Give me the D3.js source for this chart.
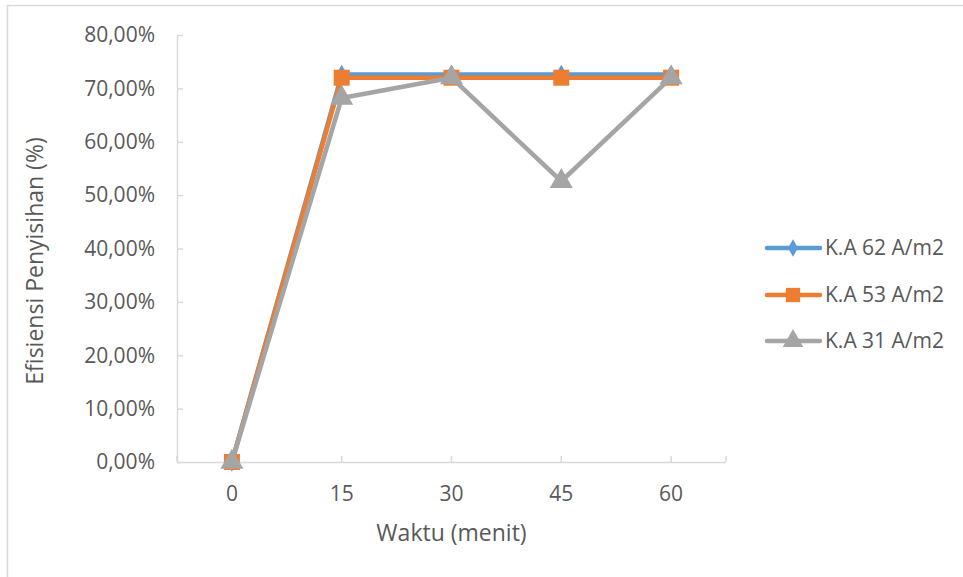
<!DOCTYPE html>
<html>
<head>
<meta charset="utf-8">
<script src="https://cdn.jsdelivr.net/npm/d3@7"></script>
<style>
  html, body { margin: 0; padding: 0; background: #fff; }
  svg { display: block; font-family: "Open Sans", "Liberation Sans", sans-serif; }
</style>
</head>
<body>
<svg id="chart" width="963" height="577"></svg>
<script>
// Waktu (menit) categories
const categories = ["0", "15", "30", "45", "60"];

// Efisiensi penyisihan per rapat arus (fractions)
const seriesNames = ["K.A 62 A/m2", "K.A 53 A/m2", "K.A 31 A/m2"];
const ka62 = [0, 0.726, 0.726, 0.726, 0.726];
const ka53 = [0, 0.720, 0.720, 0.720, 0.720];
const ka31 = [0, 0.682, 0.720, 0.526, 0.720];

const yTicks = [0, 0.1, 0.2, 0.3, 0.4, 0.5, 0.6, 0.7, 0.8];

const colors = ["#5b9bd5", "#ed7d31", "#a5a5a5"];
const markers = [d3.symbolDiamond, d3.symbolSquare, d3.symbolTriangle];
const markerSizes = [110, 256, 230];

const svg = d3.select("#chart");

// outer chart frame
svg.append("rect")
  .attr("x", 7.5).attr("y", 5.5)
  .attr("width", 1000).attr("height", 600)
  .attr("fill", "none").attr("stroke", "#d9d9d9").attr("stroke-width", 1.5);

const plot = { left: 177, right: 726, top: 35, bottom: 462 };

const x = d3.scalePoint().domain(categories)
  .range([plot.left, plot.right]).padding(0.5);
const y = d3.scaleLinear().domain([0, 0.8]).range([plot.bottom, plot.top]);

const fmt = v => d3.format(".2f")(v * 100).replace(".", ",") + "%";
const axisColor = "#d9d9d9";
const textColor = "#595959";

// y axis
const yAxis = svg.append("g").attr("transform", `translate(${plot.left},0)`)
  .call(d3.axisRight(y).tickValues(yTicks).tickSize(6).tickFormat(""));
yAxis.select(".domain").attr("stroke", axisColor).attr("stroke-width", 1.5)
  .attr("d", `M0.5,${plot.top}V${plot.bottom}`);
yAxis.selectAll(".tick line").attr("stroke", axisColor).attr("stroke-width", 1.5);

svg.append("g").selectAll("text").data(yTicks).join("text")
  .attr("x", 155).attr("y", d => y(d))
  .attr("dy", "0.35em").attr("text-anchor", "end")
  .attr("font-size", 21).attr("fill", textColor)
  .text(fmt);

// x axis
const xTickPos = [plot.left, ...categories.map(c => x(c)), plot.right];
const xAxisG = svg.append("g");
xAxisG.append("line")
  .attr("x1", plot.left).attr("x2", plot.right)
  .attr("y1", plot.bottom + 0.5).attr("y2", plot.bottom + 0.5)
  .attr("stroke", axisColor).attr("stroke-width", 1.5);
xAxisG.selectAll("line.tick").data(xTickPos).join("line")
  .attr("class", "tick")
  .attr("x1", d => d).attr("x2", d => d)
  .attr("y1", plot.bottom - 6).attr("y2", plot.bottom)
  .attr("stroke", axisColor).attr("stroke-width", 1.5);

svg.append("g").selectAll("text").data(categories).join("text")
  .attr("x", d => x(d)).attr("y", 494)
  .attr("dy", "0.35em").attr("text-anchor", "middle")
  .attr("font-size", 21).attr("fill", textColor)
  .text(d => d);

// axis titles
svg.append("text")
  .attr("x", x("30")).attr("y", 533)
  .attr("dy", "0.35em").attr("text-anchor", "middle")
  .attr("font-size", 23).attr("fill", textColor)
  .text("Waktu (menit)");

svg.append("text")
  .attr("transform", `translate(35,261) rotate(-90)`)
  .attr("dy", "0.35em").attr("text-anchor", "middle")
  .attr("font-size", 23).attr("fill", textColor)
  .text("Efisiensi Penyisihan (%)");

// series
const series = [ka62, ka53, ka31];
const line = d3.line().x((d, i) => x(categories[i])).y(d => y(d));

series.forEach((vals, s) => {
  const g = svg.append("g");
  g.append("path").datum(vals)
    .attr("d", line).attr("fill", "none")
    .attr("stroke", colors[s]).attr("stroke-width", 4.5)
    .attr("stroke-linejoin", "round").attr("stroke-linecap", "round");
  g.selectAll("path.m").data(vals).join("path")
    .attr("class", "m")
    .attr("d", d3.symbol().type(markers[s]).size(markerSizes[s]))
    .attr("transform", (d, i) => `translate(${x(categories[i])},${y(d)})`)
    .attr("fill", colors[s]);
});

// legend
const legendY = [248, 295, 341];
const legend = svg.append("g");
seriesNames.forEach((name, s) => {
  const ly = legendY[s];
  legend.append("line")
    .attr("x1", 767).attr("x2", 820).attr("y1", ly).attr("y2", ly)
    .attr("stroke", colors[s]).attr("stroke-width", 4.5)
    .attr("stroke-linecap", "round");
  legend.append("path")
    .attr("d", d3.symbol().type(markers[s]).size(markerSizes[s] * 0.8))
    .attr("transform", `translate(793,${ly})`)
    .attr("fill", colors[s]);
  legend.append("text")
    .attr("x", 825).attr("y", ly).attr("dy", "0.35em")
    .attr("font-size", 21).attr("fill", textColor)
    .text(name);
});
</script>
</body>
</html>
